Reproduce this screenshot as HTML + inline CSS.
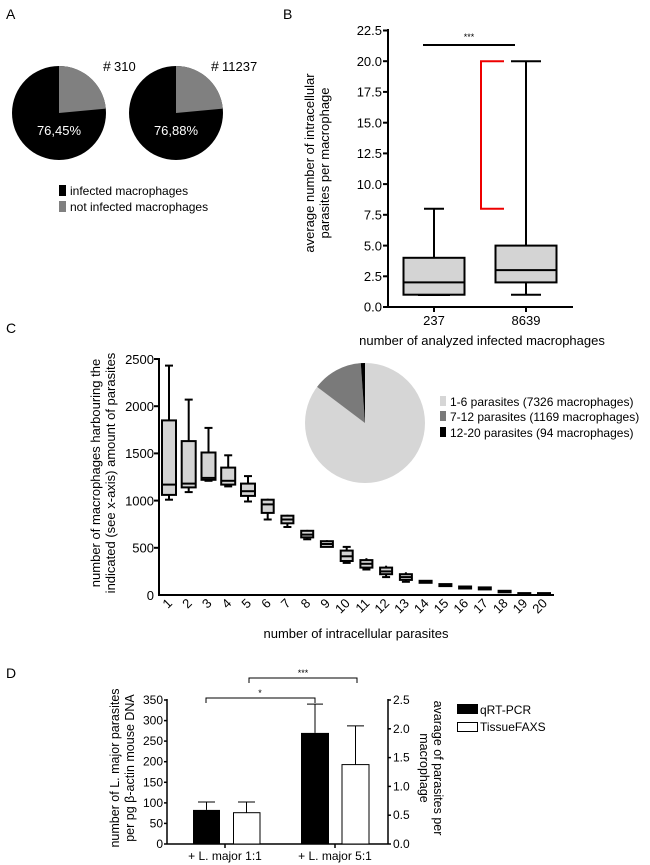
<!DOCTYPE html>
<html><head><meta charset="utf-8"><style>
html,body{margin:0;padding:0;background:#fff}
svg{display:block;font-family:"Liberation Sans",sans-serif}
</style></head><body>
<svg width="650" height="865" viewBox="0 0 650 865" xmlns="http://www.w3.org/2000/svg">
<!-- Panel A -->
<text x="6" y="19" font-size="14">A</text>
<text x="103" y="71" font-size="14">#</text><text x="114" y="71" font-size="13">310</text>
<text x="211" y="71" font-size="14">#</text><text x="222" y="71" font-size="13">11237</text>
<circle cx="59" cy="113" r="47" fill="#000"/>
<path d="M59,113 L59,66 A47,47 0 0 1 105.8,108.6 Z" fill="#808080"/>
<text x="59" y="135" font-size="13" fill="#fff" text-anchor="middle">76,45%</text>
<circle cx="176" cy="113" r="47" fill="#000"/>
<path d="M176,113 L176,66 A47,47 0 0 1 222.8,108.6 Z" fill="#808080"/>
<text x="176" y="135" font-size="13" fill="#fff" text-anchor="middle">76,88%</text>
<rect x="59" y="185" width="7" height="11" fill="#000"/>
<text x="70" y="195" font-size="12">infected macrophages</text>
<rect x="59" y="201" width="7" height="11" fill="#808080"/>
<text x="70" y="211" font-size="12">not infected macrophages</text>

<!-- Panel B -->
<text x="283" y="19" font-size="14">B</text>
<g stroke="#000" stroke-width="2" fill="none">
<line x1="388" y1="29" x2="388" y2="308"/>
<line x1="387" y1="307" x2="573" y2="307"/>
<line x1="383" y1="30.5" x2="388" y2="30.5"/><line x1="383" y1="61.2" x2="388" y2="61.2"/>
<line x1="383" y1="91.9" x2="388" y2="91.9"/><line x1="383" y1="122.7" x2="388" y2="122.7"/>
<line x1="383" y1="153.4" x2="388" y2="153.4"/><line x1="383" y1="184.1" x2="388" y2="184.1"/>
<line x1="383" y1="214.8" x2="388" y2="214.8"/><line x1="383" y1="245.6" x2="388" y2="245.6"/>
<line x1="383" y1="276.3" x2="388" y2="276.3"/><line x1="383" y1="307" x2="388" y2="307"/>
<line x1="434" y1="307" x2="434" y2="312"/><line x1="526" y1="307" x2="526" y2="312"/>
<line x1="423" y1="45" x2="515" y2="45"/>
<line x1="434" y1="208.7" x2="434" y2="257.8"/><line x1="424" y1="208.7" x2="444" y2="208.7"/>
<rect x="403.5" y="257.8" width="61" height="36.9" fill="#d4d4d4"/>
<line x1="403.5" y1="282.4" x2="465" y2="282.4"/>
<line x1="418" y1="295" x2="450" y2="295"/>
<line x1="526" y1="61.2" x2="526" y2="245.6"/><line x1="511" y1="61.2" x2="541" y2="61.2"/>
<line x1="526" y1="282.4" x2="526" y2="294.7"/><line x1="511" y1="294.7" x2="541" y2="294.7"/>
<rect x="495.5" y="245.6" width="61" height="36.8" fill="#d4d4d4"/>
<line x1="495.5" y1="270.1" x2="556.5" y2="270.1"/>
</g>
<path d="M504,61.2 L481,61.2 L481,208.7 L504,208.7" stroke="#e00" stroke-width="2" fill="none"/>
<text x="469" y="40" font-size="9" text-anchor="middle">***</text>
<g font-size="13" text-anchor="end">
<text x="382" y="35">22.5</text><text x="382" y="66">20.0</text><text x="382" y="96.5">17.5</text>
<text x="382" y="127.5">15.0</text><text x="382" y="158">12.5</text><text x="382" y="189">10.0</text>
<text x="382" y="219.5">7.5</text><text x="382" y="250.5">5.0</text><text x="382" y="281">2.5</text>
<text x="382" y="311.5">0.0</text>
</g>
<text x="434" y="325" font-size="13" text-anchor="middle">237</text>
<text x="526" y="325" font-size="13" text-anchor="middle">8639</text>
<text x="482" y="345" font-size="13" text-anchor="middle">number of analyzed infected macrophages</text>
<g transform="translate(314,163) rotate(-90)" font-size="13" text-anchor="middle">
<text x="0" y="0">average number of intracellular</text>
<text x="0" y="15">parasites per macrophage</text>
</g>

<!-- Panel C -->
<text x="6" y="333" font-size="14">C</text>
<g transform="translate(100,473) rotate(-90)" font-size="13" text-anchor="middle">
<text x="0" y="0">number of macrophages harbouring the</text>
<text x="0" y="15">indicated (see x-axis) amount of parasites</text>
</g>
<g font-size="13" text-anchor="end">
<text x="154" y="364">2500</text><text x="154" y="411">2000</text><text x="154" y="458">1500</text>
<text x="154" y="505.5">1000</text><text x="154" y="552.5">500</text><text x="154" y="600">0</text>
</g>
<g stroke="#000" stroke-width="2" fill="none">
<line x1="159" y1="358" x2="159" y2="596"/>
<line x1="158" y1="595" x2="554" y2="595"/>
<line x1="154" y1="359" x2="159" y2="359"/><line x1="154" y1="406.2" x2="159" y2="406.2"/>
<line x1="154" y1="453.4" x2="159" y2="453.4"/><line x1="154" y1="500.6" x2="159" y2="500.6"/>
<line x1="154" y1="547.8" x2="159" y2="547.8"/>
</g>
<g stroke="#000" stroke-width="2" fill="#d4d4d4">
<g><line x1="169" y1="365.6" x2="169" y2="499.7"/><line x1="165" y1="365.6" x2="173" y2="365.6"/><line x1="165" y1="499.7" x2="173" y2="499.7"/><rect x="162" y="420.4" width="14" height="74.5"/><line x1="162" y1="484.6" x2="176" y2="484.6"/></g>
<g><line x1="188.7" y1="399.6" x2="188.7" y2="492.1"/><line x1="184.7" y1="399.6" x2="192.7" y2="399.6"/><line x1="184.7" y1="492.1" x2="192.7" y2="492.1"/><rect x="181.7" y="441.1" width="14" height="46.3"/><line x1="181.7" y1="483.6" x2="195.7" y2="483.6"/></g>
<g><line x1="208.5" y1="427.9" x2="208.5" y2="480.8"/><line x1="204.5" y1="427.9" x2="212.5" y2="427.9"/><line x1="204.5" y1="480.8" x2="212.5" y2="480.8"/><rect x="201.5" y="452.5" width="14" height="27.3"/><line x1="201.5" y1="477.9" x2="215.5" y2="477.9"/></g>
<g><line x1="228.2" y1="455.3" x2="228.2" y2="486.4"/><line x1="224.2" y1="455.3" x2="232.2" y2="455.3"/><line x1="224.2" y1="486.4" x2="232.2" y2="486.4"/><rect x="221.2" y="467.6" width="14" height="17"/><line x1="221.2" y1="480.8" x2="235.2" y2="480.8"/></g>
<g><line x1="248" y1="476.1" x2="248" y2="501.5"/><line x1="244" y1="476.1" x2="252" y2="476.1"/><line x1="244" y1="501.5" x2="252" y2="501.5"/><rect x="241" y="483.6" width="14" height="12.3"/><line x1="241" y1="491.2" x2="255" y2="491.2"/></g>
<g><line x1="267.7" y1="498.7" x2="267.7" y2="519.5"/><line x1="263.7" y1="519.5" x2="271.7" y2="519.5"/><rect x="261.7" y="499.7" width="12" height="13.2"/><line x1="261.7" y1="504.4" x2="273.7" y2="504.4"/></g>
<g><line x1="287.4" y1="514.8" x2="287.4" y2="527"/><line x1="283.4" y1="527" x2="291.4" y2="527"/><rect x="281.4" y="515.7" width="12" height="7.6"/><line x1="281.4" y1="519.5" x2="293.4" y2="519.5"/></g>
<g><line x1="307.2" y1="529.9" x2="307.2" y2="539.3"/><line x1="303.2" y1="539.3" x2="311.2" y2="539.3"/><rect x="301.2" y="530.8" width="12" height="6.6"/><line x1="301.2" y1="534.6" x2="313.2" y2="534.6"/></g>
<g><line x1="326.9" y1="540.2" x2="326.9" y2="546.9"/><rect x="320.9" y="541.2" width="12" height="5.7"/><line x1="320.9" y1="544" x2="332.9" y2="544"/></g>
<g><line x1="346.7" y1="546.9" x2="346.7" y2="562.9"/><line x1="342.7" y1="546.9" x2="350.7" y2="546.9"/><line x1="342.7" y1="562.9" x2="350.7" y2="562.9"/><rect x="340.7" y="550.6" width="12" height="10.4"/><line x1="340.7" y1="556.3" x2="352.7" y2="556.3"/></g>
<g><line x1="366.4" y1="558.2" x2="366.4" y2="569.5"/><line x1="362.4" y1="569.5" x2="370.4" y2="569.5"/><rect x="360.4" y="560.1" width="12" height="7.5"/><line x1="360.4" y1="563.8" x2="372.4" y2="563.8"/></g>
<g><line x1="386.1" y1="565.7" x2="386.1" y2="577.1"/><line x1="382.1" y1="577.1" x2="390.1" y2="577.1"/><rect x="380.1" y="567.6" width="12" height="6.6"/><line x1="380.1" y1="571.4" x2="392.1" y2="571.4"/></g>
<g><line x1="405.9" y1="572.3" x2="405.9" y2="581.8"/><line x1="401.9" y1="581.8" x2="409.9" y2="581.8"/><rect x="399.9" y="574.2" width="12" height="5.7"/><line x1="399.9" y1="577.1" x2="411.9" y2="577.1"/></g>
<g><rect x="419.6" y="580.8" width="12" height="2" fill="#000"/></g>
<g><rect x="439.4" y="584.1" width="12" height="2" fill="#000"/></g>
<g><rect x="459.1" y="586.5" width="12" height="2" fill="#000"/></g>
<g><rect x="478.8" y="587.4" width="12" height="2" fill="#000"/></g>
<g><rect x="498.6" y="590.8" width="12" height="1.5" fill="#000"/></g>
<g><rect x="518.3" y="593.1" width="12" height="1" fill="#000"/></g>
<g><rect x="538" y="593.1" width="12" height="1" fill="#000"/></g>
</g>
<g font-size="13" text-anchor="end">
<text transform="translate(173,604) rotate(-45)">1</text>
<text transform="translate(192.7,604) rotate(-45)">2</text>
<text transform="translate(212.5,604) rotate(-45)">3</text>
<text transform="translate(232.2,604) rotate(-45)">4</text>
<text transform="translate(252,604) rotate(-45)">5</text>
<text transform="translate(271.7,604) rotate(-45)">6</text>
<text transform="translate(291.4,604) rotate(-45)">7</text>
<text transform="translate(311.2,604) rotate(-45)">8</text>
<text transform="translate(330.9,604) rotate(-45)">9</text>
<text transform="translate(350.7,604) rotate(-45)">10</text>
<text transform="translate(370.4,604) rotate(-45)">11</text>
<text transform="translate(390.1,604) rotate(-45)">12</text>
<text transform="translate(409.9,604) rotate(-45)">13</text>
<text transform="translate(429.6,604) rotate(-45)">14</text>
<text transform="translate(449.4,604) rotate(-45)">15</text>
<text transform="translate(469.1,604) rotate(-45)">16</text>
<text transform="translate(488.8,604) rotate(-45)">17</text>
<text transform="translate(508.6,604) rotate(-45)">18</text>
<text transform="translate(528.3,604) rotate(-45)">19</text>
<text transform="translate(548,604) rotate(-45)">20</text>
</g>
<text x="356" y="638" font-size="13" text-anchor="middle">number of intracellular parasites</text>
<circle cx="365" cy="423" r="60" fill="#d6d6d6"/>
<path d="M365,423 L360.8,363.15 A60,60 0 0 0 317.1,386.9 Z" fill="#7a7a7a"/>
<path d="M365,423 L365,363 A60,60 0 0 0 360.8,363.15 Z" fill="#000"/>
<rect x="440" y="396" width="6" height="10" fill="#d6d6d6"/>
<text x="450" y="406" font-size="12">1-6 parasites (7326 macrophages)</text>
<rect x="440" y="411" width="6" height="10" fill="#7a7a7a"/>
<text x="450" y="421" font-size="12">7-12 parasites (1169 macrophages)</text>
<rect x="440" y="427" width="6" height="10" fill="#000"/>
<text x="450" y="437" font-size="12">12-20 parasites (94 macrophages)</text>

<!-- Panel D -->
<text x="6" y="678" font-size="14">D</text>
<g transform="translate(119,768) rotate(-90)" font-size="12.5" text-anchor="middle">
<text x="0" y="0">number of L. major parasites</text>
<text x="0" y="15">per pg β-actin mouse DNA</text>
</g>
<g transform="translate(434,768) rotate(90)" font-size="12.5" text-anchor="middle">
<text x="0" y="0">avarage of parasites per</text>
<text x="0" y="14">macrophage</text>
</g>
<g font-size="12" text-anchor="end">
<text x="163" y="704">350</text><text x="163" y="724.6">300</text><text x="163" y="745.1">250</text>
<text x="163" y="765.7">200</text><text x="163" y="786.3">150</text><text x="163" y="806.9">100</text>
<text x="163" y="827.4">50</text><text x="163" y="848">0</text>
</g>
<g font-size="12">
<text x="393" y="704">2.5</text><text x="393" y="732.8">2.0</text><text x="393" y="761.6">1.5</text>
<text x="393" y="790.4">1.0</text><text x="393" y="819.2">0.5</text><text x="393" y="848">0.0</text>
</g>
<g stroke="#000" stroke-width="1.5" fill="none">
<line x1="167" y1="699" x2="167" y2="844"/>
<line x1="388" y1="699" x2="388" y2="844"/>
<line x1="167" y1="844" x2="388" y2="844"/>
<line x1="164" y1="700" x2="167" y2="700"/><line x1="164" y1="720.6" x2="167" y2="720.6"/>
<line x1="164" y1="741.1" x2="167" y2="741.1"/><line x1="164" y1="761.7" x2="167" y2="761.7"/>
<line x1="164" y1="782.3" x2="167" y2="782.3"/><line x1="164" y1="802.9" x2="167" y2="802.9"/>
<line x1="164" y1="823.4" x2="167" y2="823.4"/><line x1="164" y1="844" x2="167" y2="844"/>
<line x1="388" y1="700" x2="391" y2="700"/><line x1="388" y1="728.8" x2="391" y2="728.8"/>
<line x1="388" y1="757.6" x2="391" y2="757.6"/><line x1="388" y1="786.4" x2="391" y2="786.4"/>
<line x1="388" y1="815.2" x2="391" y2="815.2"/><line x1="388" y1="844" x2="391" y2="844"/>
<line x1="225" y1="844" x2="225" y2="848"/><line x1="335" y1="844" x2="335" y2="848"/>
</g>
<g stroke="#000" stroke-width="1" fill="none">
<line x1="206.5" y1="802" x2="206.5" y2="809.9"/><line x1="198" y1="802" x2="215" y2="802"/>
<line x1="246.5" y1="802" x2="246.5" y2="812.7"/><line x1="238" y1="802" x2="255" y2="802"/>
<line x1="315" y1="704.1" x2="315" y2="732.9"/><line x1="307" y1="704.1" x2="323" y2="704.1"/>
<line x1="355.5" y1="725.9" x2="355.5" y2="764.6"/><line x1="347" y1="725.9" x2="364" y2="725.9"/>
<path d="M206,703 L206,698 L315,698 L315,703"/>
<path d="M249,683 L249,678 L357,678 L357,683"/>
</g>
<rect x="193" y="809.9" width="27" height="34.1" fill="#000"/>
<rect x="233.5" y="812.7" width="26.5" height="31.3" fill="#fff" stroke="#000" stroke-width="1"/>
<rect x="301" y="732.9" width="28" height="111.1" fill="#000"/>
<rect x="342" y="764.6" width="27" height="79.4" fill="#fff" stroke="#000" stroke-width="1"/>
<text x="260" y="696" font-size="9" text-anchor="middle">*</text>
<text x="303" y="676" font-size="9" text-anchor="middle">***</text>
<text x="225" y="860" font-size="12" text-anchor="middle">+ L. major 1:1</text>
<text x="335" y="860" font-size="12" text-anchor="middle">+ L. major 5:1</text>
<rect x="457" y="704" width="21" height="10" fill="#000"/>
<text x="480" y="714" font-size="12">qRT-PCR</text>
<rect x="457.5" y="722.5" width="20" height="9" fill="#fff" stroke="#000" stroke-width="1"/>
<text x="480" y="731" font-size="12">TissueFAXS</text>
</svg>
</body></html>
